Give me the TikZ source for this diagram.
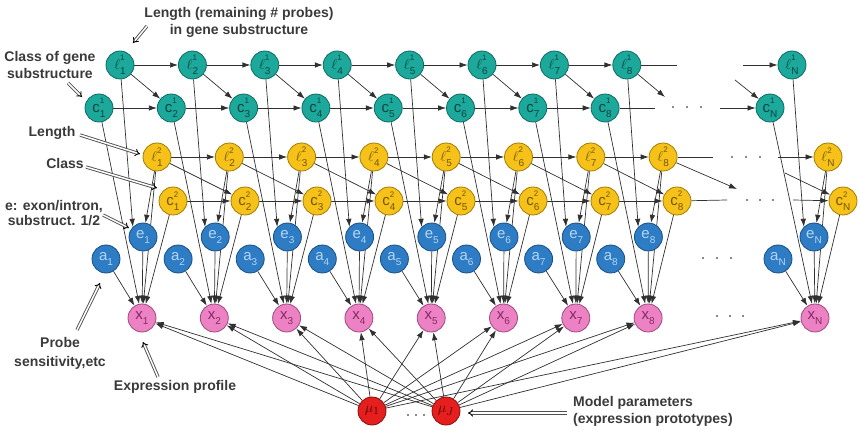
\documentclass[tikz,border=0pt]{standalone}
\usepackage{fontspec}
\setmainfont{Liberation Sans}
\usetikzlibrary{arrows.meta,backgrounds}
\definecolor{tealF}{HTML}{1CA89A}
\definecolor{tealD}{HTML}{0E6B63}
\definecolor{tealT}{HTML}{0B4540}
\definecolor{yelF}{HTML}{F6C21A}
\definecolor{yelD}{HTML}{A07C00}
\definecolor{yelT}{HTML}{735500}
\definecolor{bluF}{HTML}{2D7CC4}
\definecolor{bluD}{HTML}{1A4F85}
\definecolor{bluT}{HTML}{B5D6F5}
\definecolor{pinF}{HTML}{EC82C4}
\definecolor{pinD}{HTML}{9C4A7E}
\definecolor{pinT}{HTML}{862868}
\definecolor{redF}{HTML}{E51E1E}
\definecolor{redD}{HTML}{8A0E0E}
\definecolor{redT}{HTML}{5A0000}
\definecolor{lineC}{HTML}{303030}
\definecolor{labC}{HTML}{3A3A3A}
\definecolor{ptrC}{HTML}{505050}
\definecolor{dotC}{HTML}{606060}
\newcommand\SupSub[3]{#1\rlap{\raisebox{0.55em}{\fontsize{8}{8}\selectfont #3}}\raisebox{-0.35em}{\fontsize{10}{10}\selectfont #2}}
\tikzset{
  nd/.style={circle, minimum size=28pt, inner sep=0pt, line width=0.8pt, font=\fontsize{15}{15}\selectfont},
  tealn/.style={nd, fill=tealF, draw=tealD, text=tealT},
  yeln/.style={nd, fill=yelF, draw=yelD, text=yelT},
  blun/.style={nd, fill=bluF, draw=bluD, text=bluT},
  pinn/.style={nd, fill=pinF, draw=pinD, text=pinT},
  redn/.style={nd, fill=redF, draw=redD, text=redT},
  edge/.style={draw=lineC, line width=0.7pt, -{Latex[length=8pt,width=5.5pt]}},
  plain/.style={draw=lineC, line width=0.7pt},
  ptr/.style={draw=ptrC, double=white, double distance=1.5pt, line width=0.9pt, -{Implies[scale=1.9,color=black]}},
  lab/.style={font=\fontsize{14}{17}\selectfont\bfseries, text=labC, inner sep=0pt}
}
\begin{document}
\begin{tikzpicture}[x=1pt,y=-1pt]
\useasboundingbox (0,0) rectangle (859,430);
% nodes
\foreach \i in {1,...,8} {
  \pgfmathsetmacro\xa{120+72.4*(\i-1)}
  \pgfmathsetmacro\xb{99+72.3*(\i-1)}
  \pgfmathsetmacro\xc{157+72.3*(\i-1)}
  \pgfmathsetmacro\xd{173+72*(\i-1)}
  \pgfmathsetmacro\xe{143+72.2*(\i-1)}
  \pgfmathsetmacro\xf{106+72.1*(\i-1)}
  \pgfmathsetmacro\xg{142+72.3*(\i-1)}
  \node[tealn] (L\i) at (\xa,65) {\SupSub{$\ell$}{\i}{1}};
  \node[tealn] (C\i) at (\xb,108) {\SupSub{c}{\i}{1}};
  \node[yeln] (M\i) at (\xc,157) {\SupSub{$\ell$}{\i}{2}};
  \node[yeln] (D\i) at (\xd,201) {\SupSub{c}{\i}{2}};
  \node[blun] (E\i) at (\xe,237) {\SupSub{e}{\i}{}};
  \node[blun] (A\i) at (\xf,259) {\SupSub{a}{\i}{}};
  \node[pinn] (X\i) at (\xg,318) {\SupSub{x}{\i}{}};
}
\node[tealn] (LN) at (792,65) {\SupSub{$\ell$}{N}{1}};
\node[tealn] (CN) at (770,108) {\SupSub{c}{N}{1}};
\node[yeln] (MN) at (828,157) {\SupSub{$\ell$}{N}{2}};
\node[yeln] (DN) at (843,201) {\SupSub{c}{N}{2}};
\node[blun] (EN) at (814,237) {\SupSub{e}{N}{}};
\node[blun] (AN) at (778,259) {\SupSub{a}{N}{}};
\node[pinn] (XN) at (815,318) {\SupSub{x}{N}{}};
\node[redn] (U1) at (372,411) {$\mu_1$};
\node[redn] (UJ) at (446,411) {$\mu_J$};
% free ends
\coordinate (l8e) at (677,65);   \coordinate (lNs) at (743,65);
\coordinate (d8e) at (665,97);   \coordinate (dNs) at (735,80);
\coordinate (c8e) at (655,108);  \coordinate (cNs) at (720,108);
\coordinate (m8e) at (713,157);  \coordinate (mNs) at (778,157);
\coordinate (n8e) at (737,189);  \coordinate (nNs) at (785,173);
\coordinate (e8e) at (727,200);  \coordinate (eNs) at (793,200);
% edges
\begin{scope}[on background layer]
\foreach \i [evaluate=\i as \j using int(\i+1)] in {1,...,7} {
  \draw[edge] (L\i) -- (L\j);
  \draw[edge] (L\i) -- (C\j);
  \draw[edge] (C\i) -- (C\j);
  \draw[edge] (M\i) -- (M\j);
  \draw[edge] (M\i) -- (D\j);
  \draw[edge] (D\i) -- (D\j);
}
\draw[plain] (L8) -- (l8e); \draw[edge] (lNs) -- (LN);
\draw[edge] (L8) -- (d8e);  \draw[edge] (dNs) -- (CN);
\draw[plain] (C8) -- (c8e); \draw[edge] (cNs) -- (CN);
\draw[plain] (M8) -- (m8e); \draw[edge] (mNs) -- (MN);
\draw[edge] (M8) -- (n8e);  \draw[edge] (nNs) -- (DN);
\draw[plain] (D8) -- (e8e); \draw[edge] (eNs) -- (DN);
\foreach \i in {1,...,8,N} {
  \draw[edge] (L\i) -- (E\i.135);
  \draw[edge] (M\i) -- (E\i);
  \draw[edge] (M\i) -- (X\i);
  \draw[edge] (C\i) -- (X\i);
  \draw[edge] (D\i) -- (X\i);
  \draw[edge] (E\i) -- (X\i);
  \draw[edge] (A\i) -- (X\i);
  \draw[edge] (U1) -- (X\i);
  \draw[edge] (UJ) -- (X\i);
}
\end{scope}
% dots
\foreach \px/\py in {673/107,687/107,701/107, 732/157,746/157,760/157, 747/200,760/200,773/200, 703/258,717/258,731/258, 717/316,730/316,743/316, 408/415,416/415,424/415}
  \fill[dotC] (\px,\py) circle (1.1);
% labels
\node[lab, align=center] (t1) at (239,22) {Length (remaining \# probes)\\in gene substructure};
\node[lab, align=center] (t2) at (50,65) {Class of gene\\substructure};
\node[lab] (t3) at (52,133) {Length};
\node[lab] (t4) at (65,163) {Class};
\node[lab, align=center, font=\fontsize{14}{15.5}\selectfont\bfseries] (t5) at (54,213) {e: exon/intron,\\substruct. 1/2};
\node[lab, align=center, font=\fontsize{14}{19}\selectfont\bfseries] (t6) at (60,353) {Probe\\sensitivity,etc};
\node[lab] (t7) at (175,387) {Expression profile};
\node[lab, align=left, anchor=west] (t8) at (573,411) {Model parameters\\(expression prototypes)};
% pointers
\coordinate (p1) at (133,43);
\coordinate (p2) at (82,97);
\coordinate (p3) at (140,154);
\coordinate (p4) at (157,188);
\coordinate (p5) at (129,228);
\coordinate (p6) at (100,283);
\coordinate (p7) at (143,342);
\coordinate (p8) at (468,413);
\coordinate (q3) at (80,135);
\coordinate (q4) at (86,167);
\coordinate (q8) at (567,413);
\draw[ptr] (147,26) -- (p1);
\draw[ptr] (68,83) -- (p2);
\draw[ptr] (q3) -- (p3);
\draw[ptr] (q4) -- (p4);
\draw[ptr] (103,215) -- (p5);
\draw[ptr] (77,330) -- (p6);
\draw[ptr] (158,377) -- (p7);
\draw[ptr] (q8) -- (p8);
\end{tikzpicture}
\end{document}
